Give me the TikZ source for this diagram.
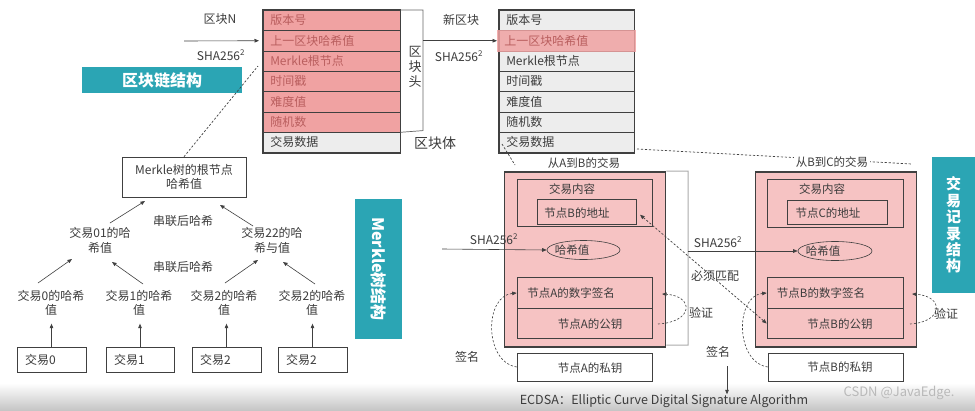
\documentclass[tikz,border=0pt]{standalone}
\usepackage{fontspec}
\setmainfont{Noto Sans CJK SC}
\usetikzlibrary{arrows.meta,shapes.geometric}
\definecolor{pinkA}{HTML}{F0A2A2}
\definecolor{pinkB}{HTML}{F6C3C3}
\definecolor{greyrow}{HTML}{EDEDED}
\definecolor{tealc}{HTML}{2BA5B4}
\definecolor{txtc}{HTML}{3C3C3C}
\definecolor{redtxt}{HTML}{B95E5E}
\definecolor{linec}{HTML}{404040}
\tikzset{
  lbl/.style={text=txtc, inner sep=0pt, font=\fontsize{12}{14}\selectfont},
  slbl/.style={text=txtc, inner sep=0pt, font=\fontsize{11.5}{13}\selectfont},
  rowN/.style={draw=linec, line width=0.5pt, fill=pinkA, text=redtxt, anchor=north west,
    minimum height=20.3pt, inner xsep=7pt, inner ysep=0pt, text width=123pt, align=left,
    font=\fontsize{12}{14}\selectfont},
  rowB/.style={rowN, fill=greyrow, text=txtc, text width=121pt},
  txbox/.style={draw=linec, line width=1.8pt, fill=pinkB, inner sep=0pt},
  ibox/.style={draw=linec, line width=0.6pt, inner sep=0pt},
  leafbox/.style={ibox, fill=white, minimum height=25pt, inner xsep=8pt, text width=53pt, align=left, text=txtc, font=\fontsize{12}{14}\selectfont},
  tealbox/.style={fill=tealc, text=white, inner sep=0pt, font=\bfseries\fontsize{16}{18}\selectfont},
  arr/.style={draw=linec, line width=0.6pt, -{Triangle[length=4.5pt,width=3.6pt]}},
  dsh/.style={draw=linec, line width=0.7pt, dash pattern=on 2.2pt off 1.8pt},
  brk/.style={draw=gray!65, line width=1pt}
}
\begin{document}
\begin{tikzpicture}[x=1pt,y=-1pt]
\useasboundingbox[fill=white] (0,0) rectangle (975,410);
\shade[top color=white, bottom color=gray!45] (0,383) rectangle (975,410);

% ---------- Block N ----------
\foreach \i/\lab in {1/版本号,2/上一区块哈希值,3/Merkle根节点,4/时间戳,5/难度值,6/随机数}
  \node[rowN] (N\i) at (263,{10+20.3*(\i-1)}) {\lab};
\node[rowN, fill=greyrow, text=txtc] (N7) at (263,{10+20.3*6}) {交易数据};
\draw[line width=1.8pt, draw=linec] (N1.north west) rectangle (N7.south east);

\coordinate (brT) at (423,10);
\coordinate (brB) at (423,130.6);
\draw[brk, draw=linec!80, line width=0.7pt] (N1.north east) -- (brT) -- (brB) -- (N6.south east);
\node[lbl, font=\fontsize{13}{14.8}\selectfont, align=center] (hd) at (415,67) {区\\块\\头};
\node[lbl, font=\fontsize{14}{16}\selectfont] (bd) at (435,143) {区块体};

\node[lbl] (lblN) at (220,19) {区块N};
\node[lbl] (shaN) at (221,55) {SHA256\textsuperscript{2}};
\coordinate (inN) at (184,41);
\draw[arr, shorten >=4pt] (inN) -- (N2.west);

\node[tealbox, minimum width=160pt, minimum height=26pt] (T1) at (162,80) {区块链结构};

% ---------- New block ----------
\foreach \i/\lab in {1/版本号,3/Merkle根节点,4/时间戳,5/难度值,6/随机数,7/交易数据}
  \node[rowB] (B\i) at (499,{10+20.3*(\i-1)}) {\lab};
\node[rowB] (B2) at (499,30.3) {};
\draw[line width=1.8pt, draw=linec] (B1.north west) rectangle (B7.south east);
\node[rowN, draw=none, fill opacity=0.85, text opacity=1, minimum height=22pt, text width=125pt] (B2h) at (497,29.5) {上一区块哈希值};

\node[lbl] (lblB) at (461,20) {新区块};
\node[lbl] (shaB) at (459,56) {SHA256\textsuperscript{2}};
\draw[arr] (brT |- B2h.west) -- (B2h.west);

% ---------- Merkle tree ----------
\node[ibox, fill=white, minimum width=124pt, minimum height=40pt, align=center, text=txtc, font=\fontsize{12}{13.5}\selectfont] (R) at (184,177) {Merkle树的根节点\\哈希值};
\coordinate (mrk) at (258,66);
\draw[dsh] (R.north) -- (mrk);

\node[lbl, font=\fontsize{12}{15}\selectfont, align=center] (H01) at (100,240.5) {交易01的哈\\希值};
\node[lbl, font=\fontsize{12}{15}\selectfont, align=center] (H22) at (272,240.5) {交易22的哈\\希与值};
\node[lbl] (cat1) at (183,221) {串联后哈希};
\node[lbl] (cat2) at (183,267) {串联后哈希};

\node[lbl, align=center] (L0) at (51,303) {交易0的哈希\\值};
\node[lbl, align=center] (L1) at (139,303) {交易1的哈希\\值};
\node[lbl, align=center] (L2) at (224,303) {交易2的哈希\\值};
\node[lbl, align=center] (L3) at (312,303) {交易2的哈希\\值};

\node[leafbox] (X0) at (51.5,359.5) {交易0};
\node[leafbox, text width=52pt] (X1) at (140,359.5) {交易1};
\node[leafbox] (X2) at (226.5,359.5) {交易2};
\node[leafbox] (X3) at (312.5,359.5) {交易2};

\foreach \k in {0,1,2,3} \draw[arr] (X\k.north) -- ++(0,-23);

\coordinate (c1) at (38,283);  \coordinate (c2) at (72,259);
\coordinate (c3) at (143,284); \coordinate (c4) at (112,262);
\coordinate (c5) at (225,283); \coordinate (c6) at (258,260);
\coordinate (c7) at (315,284); \coordinate (c8) at (283,262);
\coordinate (c9) at (110,223); \coordinate (c10) at (145,201);
\coordinate (c11) at (253,226); \coordinate (c12) at (220,205);
\draw[arr] (c1) -- (c2);
\draw[arr] (c3) -- (c4);
\draw[arr] (c5) -- (c6);
\draw[arr] (c7) -- (c8);
\draw[arr] (c9) -- (c10);
\draw[arr] (c11) -- (c12);

\node[tealbox, rotate=-90, minimum width=140pt, minimum height=47pt] (T2) at (378.5,269) {Merkle树结构};

% ---------- links from new block ----------
\coordinate (dA0) at (502,144);
\coordinate (dA) at (515,165);
\draw[dsh] (dA0) -- (dA);
\node[slbl] (ab) at (584,163) {从A到B的交易};
\coordinate (dC0) at (637,149);
\coordinate (dC) at (912,164);
\draw[dsh] (dC0) -- (dC);
\node[slbl, fill=white, inner xsep=2pt, inner ysep=1pt] (bc) at (832,162) {从B到C的交易};

% ---------- Transaction A -> B ----------
\node[txbox, minimum width=161pt, minimum height=175pt] (TA) at (585,259.5) {};
\coordinate (bA1) at (688,171);
\coordinate (bA2) at (688,345);
\draw[brk] (TA.north east) -- (bA1) -- (bA2) -- (TA.south east |- bA2);

\node[ibox, minimum width=135pt, minimum height=47pt] (CA) at (584.5,203) {};
\node[slbl] (CAt) at (572,189) {交易内容};
\node[ibox, minimum width=99pt, minimum height=25pt] (AdA) at (586.5,211.5) {};
\node[slbl] (AdAt) at (577,213) {节点B的地址};

\node[ellipse, draw=linec, line width=0.6pt, minimum width=73pt, minimum height=19pt, inner sep=0pt] (HA) at (583.5,250) {};
\node[slbl] (HAt) at (572,250) {哈希值};
\coordinate (sA) at (442,249);
\draw[arr] (sA) -- (HA.west);
\node[lbl] (shaA) at (494,239) {SHA256\textsuperscript{2}};

\node[ibox, minimum width=135pt, minimum height=30.5pt] (SA) at (584.5,293) {};
\node[ibox, minimum width=135pt, minimum height=30.5pt] (PA) at (584.5,323.5) {};
\node[slbl] (SAt) at (571,293) {节点A的数字签名};
\node[slbl] (PAt) at (590,324) {节点A的公钥};
\node[ibox, fill=white, minimum width=135pt, minimum height=28pt] (KA) at (584.5,367) {};
\node[slbl] (KAt) at (590,368) {节点A的私钥};

\node[lbl] (sgA) at (467,357) {签名};
\draw[dsh, arr] (KA.west) .. controls (484,362) and (484,296) .. (SA.west);
\coordinate (vA0) at (658,324);
\coordinate (vA1) at (662,294);
\draw[dsh, arr] (vA0) .. controls (694,322) and (694,296) .. (vA1);
\node[lbl] (vfA) at (701,313) {验证};

% ---------- Transaction B -> C ----------
\node[txbox, minimum width=161pt, minimum height=175pt] (TB) at (836,259.5) {};
\node[ibox, minimum width=136pt, minimum height=48pt] (CB) at (835,203) {};
\node[slbl] (CBt) at (822,189) {交易内容};
\node[ibox, minimum width=100pt, minimum height=24pt] (AdB) at (837,212) {};
\node[slbl] (AdBt) at (828,213) {节点C的地址};

\node[ellipse, draw=linec, line width=0.6pt, minimum width=74pt, minimum height=19pt, inner sep=0pt] (HB) at (835,251) {};
\node[slbl] (HBt) at (823,251) {哈希值};
\coordinate (sB) at (688,251);
\draw[arr] (sB) -- (HB.west);
\node[lbl] (shaBC) at (718,242) {SHA256\textsuperscript{2}};

\node[ibox, minimum width=136pt, minimum height=30.5pt] (SB) at (835,293) {};
\node[ibox, minimum width=136pt, minimum height=30.5pt] (PB) at (835,323.5) {};
\node[slbl] (SBt) at (821,293) {节点B的数字签名};
\node[slbl] (PBt) at (840,324) {节点B的公钥};
\node[ibox, fill=white, minimum width=135pt, minimum height=28pt] (KB) at (835.5,367) {};
\node[slbl] (KBt) at (840,367) {节点B的私钥};

\draw[dsh, arr] (KB.west) .. controls (735,362) and (735,296) .. (SB.west);
\coordinate (vB0) at (910,324);
\coordinate (vB1) at (912,294);
\draw[dsh, arr] (vB0) .. controls (944,322) and (944,296) .. (vB1);
\node[lbl] (vfB) at (946,314) {验证};

\draw[dsh, {Triangle[length=4.5pt,width=3.6pt]}-{Triangle[length=4.5pt,width=3.6pt]}, shorten <=5pt] (AdA.east) -- (PB.west);
\node[lbl] (mm) at (715,276) {必须匹配};

\node[tealbox, minimum width=44pt, minimum height=136pt, align=center, font=\bfseries\fontsize{15}{16.4}\selectfont] (T3) at (953.5,225) {交\\易\\记\\录\\结\\构};

% ---------- ECDSA ----------
\node[lbl] (sgM) at (718,352) {签名};
\node[lbl, font=\fontsize{12.5}{14}\selectfont] (ec) at (664,401) {ECDSA：Elliptic Curve Digital Signature Algorithm};
\coordinate (sg0) at (727,366);
\draw[arr] (sg0) -- (sg0 |- ec.north);

\node[text=gray!55, inner sep=0pt, font=\fontsize{13}{15}\selectfont] (wm) at (899,393) {CSDN @JavaEdge.};
\end{tikzpicture}
\end{document}
